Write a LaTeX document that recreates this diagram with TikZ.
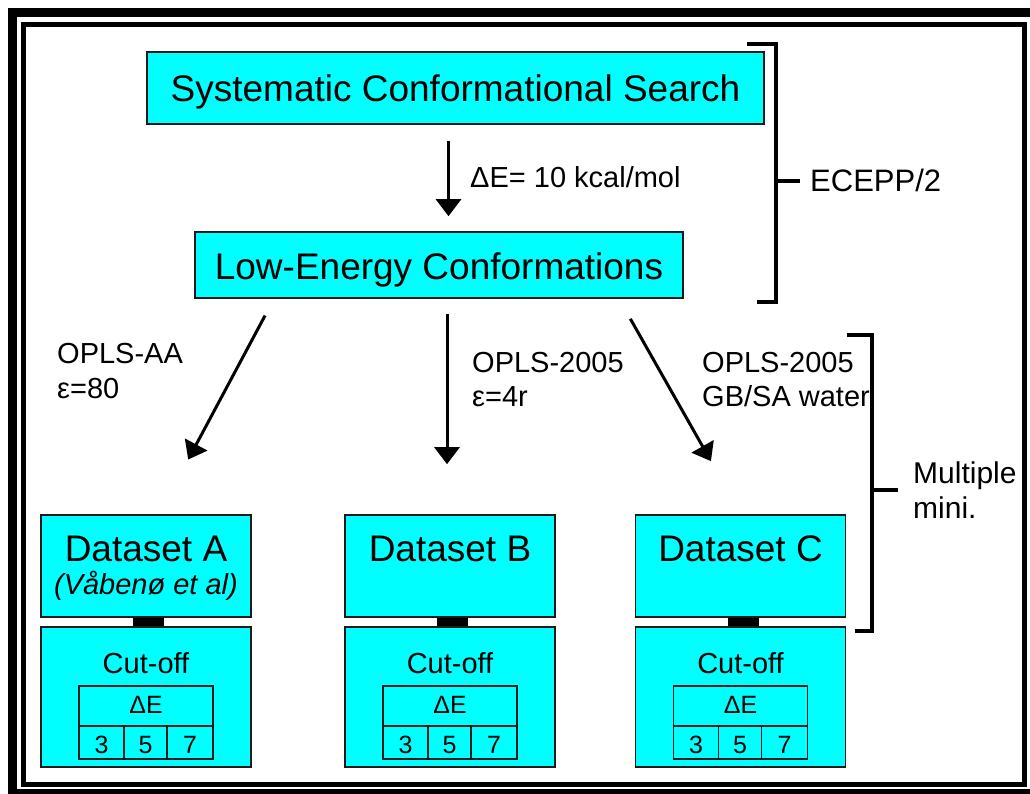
\documentclass[tikz,border=0pt]{standalone}
\usepackage{fontspec}
\setmainfont{Liberation Sans}
\usetikzlibrary{arrows.meta}
\definecolor{boxcyan}{HTML}{00FFFF}
\definecolor{boxedge}{HTML}{1A1A1A}
\begin{document}
\begin{tikzpicture}[x=1pt,y=-1pt,
  box/.style={draw=boxedge, line width=1.6pt, fill=boxcyan, inner sep=0pt},
  bigtxt/.style={font=\fontsize{37}{44}\selectfont},
  lab/.style={font=\fontsize{29}{35}\selectfont, anchor=base west, inner sep=0pt},
  ctxt/.style={font=\fontsize{29}{35}\selectfont, anchor=base, inner sep=0pt},
  tabtxt/.style={font=\fontsize{25}{30}\selectfont, anchor=base, inner sep=0pt},
  arr/.style={line width=3pt, -{Triangle[length=17pt,width=25pt]}},
  brk/.style={line width=3.5pt},
  tabline/.style={line width=1.6pt, draw=boxedge}]
\useasboundingbox (0,0) rectangle (1030,794);
\begin{scope}
\clip (0,0) rectangle (1030,794);
% frame
\draw[line width=9pt] (12.5,13) rectangle (1036,793.5);
\draw[line width=4.5pt] (23.5,24.5) rectangle (1024.5,784.5);
\end{scope}

% top boxes
\node[box, bigtxt, minimum width=617pt, minimum height=72pt, text height=27pt, text depth=0pt] (scs) at (455.5,88) {Systematic Conformational Search};
\node[box, bigtxt, minimum width=488pt, minimum height=66pt, text height=29pt, text depth=0pt] (lec) at (439,265) {Low-Energy Conformations};

\draw[arr, shorten <=16pt, shorten >=15pt] ([xshift=-7pt]scs.south) -- ([xshift=-7pt]scs.south |- lec.north);
\node[lab] (de) at (470,188) {ΔE= 10 kcal/mol};

% ECEPP bracket
\draw[brk] (747,44) -- (776,44) -- (776,302) -- (757,302);
\draw[brk] (776,181) -- (800,181);
\node[lab, font=\fontsize{31}{36}\selectfont] (ecepp) at (810,192) {ECEPP/2};

% dataset boxes
\foreach \n/\cx in {A/146, B/450, C/740.5}{
  \node[box, minimum width=210pt, minimum height=102pt] (ds\n) at (\cx,566) {};
  \node[box, minimum width=210pt, minimum height=140pt] (cut\n) at (\cx,697) {};
  \draw[line width=31pt] ([xshift=2.5pt]ds\n.south) -- ([xshift=2.5pt]cut\n.north);
  \node[bigtxt, anchor=base, inner sep=0pt] (t\n) at (\cx,561) {Dataset \n};
  \node[ctxt] (co\n) at (\cx,673) {Cut-off};
  \draw[tabline] (\cx-67,686) rectangle (\cx+67,759);
  \draw[tabline] (\cx-67,726) -- (\cx+67,726);
  \draw[tabline] (\cx-22,726) -- (\cx-22,759);
  \draw[tabline] (\cx+21,726) -- (\cx+21,759);
  \node[tabtxt] (dE\n) at (\cx,713) {ΔE};
  \node[tabtxt] (v3\n) at (\cx-44.5,753) {3};
  \node[tabtxt] (v5\n) at (\cx-0.5,753) {5};
  \node[tabtxt] (v7\n) at (\cx+44,753) {7};
}
\node[ctxt, font=\fontsize{29}{35}\selectfont\itshape] (ref) at (146,594) {(Våbenø et al)};

% arrows to datasets
\draw[arr, shorten <=19pt, shorten >=62pt] ([xshift=-165pt]lec.south) -- ([xshift=13pt]dsA.north);
\draw[arr, shorten <=15pt, shorten >=50pt] ([xshift=-3pt]dsB.north |- lec.south) -- ([xshift=-3pt]dsB.north);
\draw[arr, shorten <=23pt, shorten >=61pt] ([xshift=180pt]lec.south) -- ([xshift=0.5pt]dsC.north);

\node[lab] (l1a) at (57,363) {OPLS-AA};
\node[lab] (l1b) at (57,398) {ε=80};
\node[lab] (l2a) at (472,372) {OPLS-2005};
\node[lab] (l2b) at (472,406) {ε=4r};
\node[lab] (l3a) at (702,372) {OPLS-2005};
\node[lab] (l3b) at (702,406) {GB/SA water};

% Multiple mini bracket
\draw[brk] (847,335) -- (872,335) -- (872,631) -- (855,631);
\draw[brk] (872,490) -- (898,490);
\node[lab, font=\fontsize{30}{35}\selectfont] (mm1) at (913,483) {Multiple};
\node[lab, font=\fontsize{30}{35}\selectfont] (mm2) at (913,518) {mini.};
\end{tikzpicture}
\end{document}
